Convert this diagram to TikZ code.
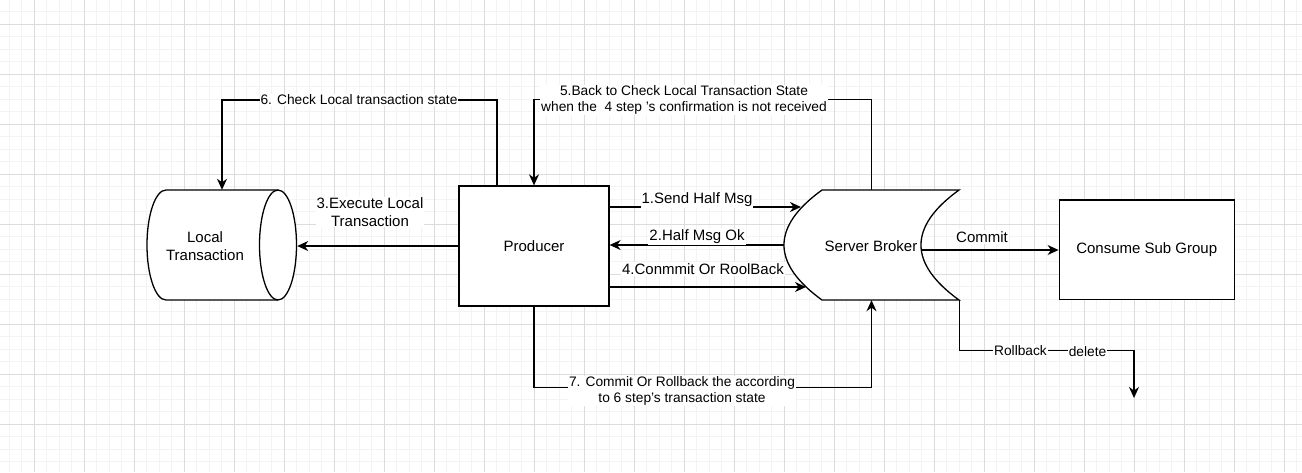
\documentclass[tikz,border=0pt]{standalone}
\usepackage{fontspec}
\setmainfont{Liberation Sans}
\usetikzlibrary{arrows.meta}
\definecolor{gminor}{RGB}{243,243,243}
\definecolor{gmajor}{RGB}{220,220,220}
\begin{document}
\begin{tikzpicture}[x=1pt,y=-1pt,
  ln/.style={line width=1.3pt, draw=black},
  arr/.style={ln, -{Stealth[length=11pt,width=10pt,inset=3.5pt]}},
  vtx/.style={font=\fontsize{15}{18}\selectfont, align=center, text=black},
  elab/.style={font=\fontsize{15}{17.7}\selectfont, fill=white, inner sep=1pt, align=center, text=black},
  slab/.style={font=\fontsize{13.75}{15.7}\selectfont, fill=white, inner sep=1pt, align=center, text=black},
  gridminor/.style={draw=gminor, line width=1pt},
  gridmajor/.style={draw=gmajor, line width=1pt},
  shape box/.style={minimum width=#1, inner sep=0pt},
]
% background and grid
\fill[white] (0,0) rectangle (1302,472);
\useasboundingbox (0,0) rectangle (1302,472);
\foreach \i in {0,...,104} \draw[gridminor] ({9.3+12.5*\i},0) -- ({9.3+12.5*\i},472);
\foreach \i in {0,...,37} \draw[gridminor] (0,{11.8+12.5*\i}) -- (1302,{11.8+12.5*\i});
\foreach \i in {0,...,25} \draw[gridmajor] ({34.3+50*\i},0) -- ({34.3+50*\i},472);
\foreach \i in {0,...,8} \draw[gridmajor] (0,{24.3+50*\i}) -- (1302,{24.3+50*\i});

% Local Transaction (horizontal cylinder)
\node[shape box=150pt, minimum height=110pt] (lt) at (222,245) {};
\draw[ln, fill=white] (166,190) -- (278,190)
  .. controls (288.2,190) and (296.5,214.6) .. (296.5,245)
  .. controls (296.5,275.4) and (288.2,300) .. (278,300)
  -- (166,300)
  .. controls (155.5,300) and (147,275.4) .. (147,245)
  .. controls (147,214.6) and (155.5,190) .. (166,190) -- cycle;
\draw[ln] (278,300) .. controls (267.8,300) and (259.5,275.4) .. (259.5,245)
  .. controls (259.5,214.6) and (267.8,190) .. (278,190);
\node[vtx] at (205,246) {Local\\Transaction};

% Producer
\node[ln, fill=white, minimum width=150pt, minimum height=120pt, inner sep=0pt, vtx] (pr) at (534,246) {Producer};

% Server Broker
\node[shape box=175pt, minimum height=110pt] (sb) at (871.5,245) {};
\draw[ln, fill=white] (822,190) -- (959,190)
  .. controls (908.3,226.7) and (908.3,263.3) .. (959,300)
  -- (822,300)
  .. controls (771.3,263.3) and (771.3,226.7) .. (822,190) -- cycle;
\node[vtx] at (871,246) {Server Broker};

% Consume Sub Group
\node[ln, fill=white, minimum width=175pt, minimum height=99.5pt, inner sep=0pt, vtx] (cg) at (1146.7,249.7) {Consume Sub Group};

% connector end points on curved outlines
\coordinate (b1) at (801,207);
\coordinate (b4) at (806,287);
\coordinate (c0) at (921.5,250);
\coordinate (rb) at (1134,398);

% 1
\draw[arr] (pr.east |- b1) -- (b1)
  node[elab] at (697,200) {1.Send Half Msg};
% 2
\draw[arr] (sb.west) -- (pr.east |- sb.west)
  node[elab] at (697,237) {2.Half Msg Ok};
% 4
\draw[arr] (pr.east |- b4) -- (b4)
  node[elab] at (703,269) {4.Conmmit Or RoolBack};
% 3
\draw[arr] (pr.west) -- (lt.east |- pr.west)
  node[elab] at (370,212) {3.Execute Local\\Transaction};
% 5
\draw[arr] (sb.north) -- (sb.north |- 0,99.5) -| (pr.north)
  node[slab] at (684,100) {5.Back to Check Local Transaction State\\when the\ \ 4 step 's confirmation is not received};
% 6
\draw[arr] ([xshift=-37pt]pr.north) |- (lt.north |- 0,100) -- (lt.north)
  node[slab] at (359,100) {6. Check Local transaction state};
% 7
\draw[arr] (pr.south) |- (sb.south |- 0,387.3) -- (sb.south)
  node[slab] at (682,391) {7. Commit Or Rollback the according\\to 6 step's transaction state};
% Commit
\draw[arr] (c0) -- (cg.west |- c0)
  node[elab] at (982,237) {Commit};
% Rollback / delete
\draw[arr] (sb.south east) |- (rb |- 0,350.7) -- (rb)
  node[slab] at (1020.5,350.5) {Rollback}
  node[slab] at (1087.5,351.5) {delete};
\end{tikzpicture}
\end{document}
